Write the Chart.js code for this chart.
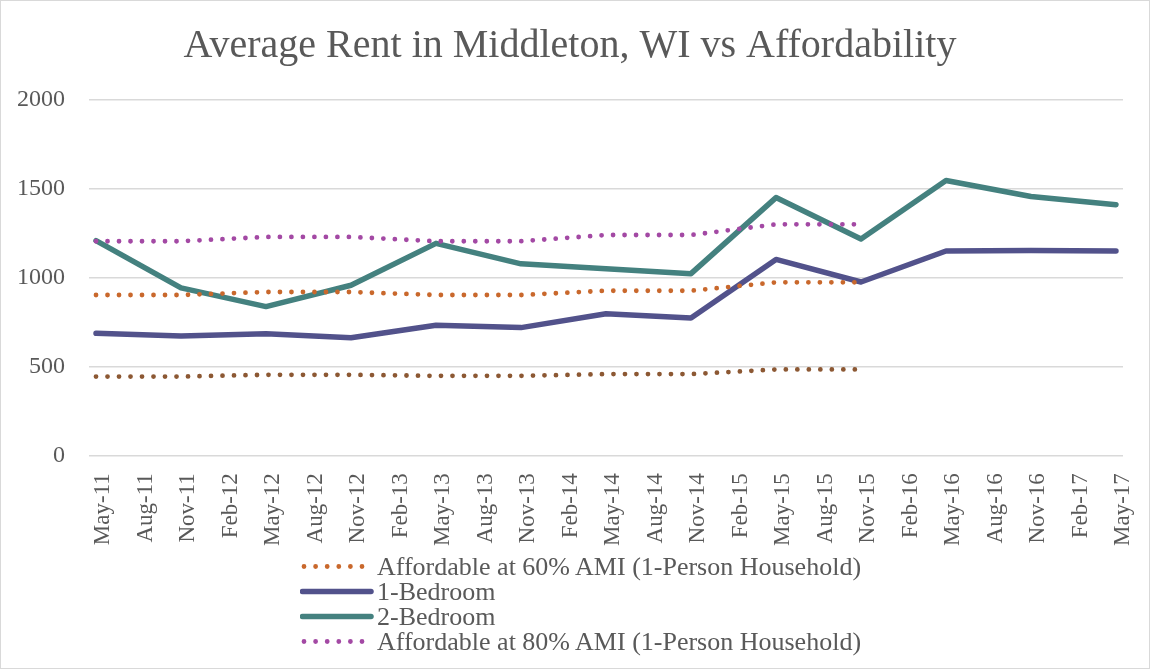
<!DOCTYPE html>
<html>
<head>
<meta charset="utf-8">
<script src="https://cdn.jsdelivr.net/npm/chart.js@4/dist/chart.umd.min.js"></script>
<style>
html, body { margin: 0; padding: 0; background: #fff; }
#wrap { position: relative; width: 1150px; height: 671px; overflow: hidden; }
#frame { position: absolute; left: 0; top: 0; width: 1148px; height: 667px; border: 1px solid #d9d9d9; pointer-events: none; }
#legend { position: absolute; left: 300px; top: 554px; font-family: 'Liberation Serif', serif; font-size: 26px; color: #595959; }
.row { display: flex; align-items: center; height: 25px; white-space: nowrap; }
.row svg { width: 77px; height: 25px; flex: none; }
</style>
</head>
<body>
<div id="wrap">
  <canvas id="chart" width="1150" height="671"></canvas>
  <div id="legend"></div>
  <div id="frame"></div>
</div>
<script>
// axis categories (quarterly ticks) and the dates that have observations
const labels = ['May-11','Aug-11','Nov-11','Feb-12','May-12','Aug-12','Nov-12','Feb-13','May-13','Aug-13','Nov-13','Feb-14',
  'May-14','Aug-14','Nov-14','Feb-15','May-15','Aug-15','Nov-15','Feb-16','May-16','Aug-16','Nov-16','Feb-17','May-17'];
const obsDates = ['May-11','Nov-11','May-12','Nov-12','May-13','Nov-13','May-14','Nov-14','May-15','Nov-15','May-16','Nov-16','May-17'];

// series values
const oneBedroom = [690, 675, 688, 665, 735, 722, 800, 776, 1105, 978, 1152, 1155, 1152];
const twoBedroom = [1210, 945, 840, 960, 1195, 1080, 1053, 1025, 1452, 1220, 1548, 1458, 1412];
const ami60 = [905, 905, 922, 922, 905, 905, 929, 929, 976, 976];
const ami80 = [1207, 1207, 1231, 1231, 1207, 1207, 1242, 1242, 1302, 1302];
const ami30 = [447, 447, 457, 457, 451, 451, 461, 461, 487, 487];

const yTicks = [0, 500, 1000, 1500, 2000];

const FONT = "'Liberation Serif', serif";
const TEXT = '#595959';

function pts(values) {
    return values.map((v, i) => ({ x: labels.indexOf(obsDates[i]), y: v }));
}

function dotted(label, values, color, legendPos) {
    return { label: label, data: pts(values), borderColor: color, backgroundColor: color, borderWidth: 4.8,
        borderDash: [0, 11.5], borderCapStyle: 'round', pointRadius: 0, tension: 0, legendPos: legendPos, dots: true };
}
function solid(label, values, color, legendPos) {
    return { label: label, data: pts(values), borderColor: color, backgroundColor: color, borderWidth: 5.5,
        borderCapStyle: 'round', borderJoinStyle: 'round', pointRadius: 0, tension: 0, legendPos: legendPos, dots: false };
}

// first dataset is drawn on top
const datasets = [
    dotted('Affordable at 80% AMI (1-Person Household)', ami80, '#a349a4', 4),
    dotted('Affordable at 60% AMI (1-Person Household)', ami60, '#c9682c', 1),
    dotted('Affordable at 30% AMI (1-Person Household)', ami30, '#8c5833', 0),
    solid('2-Bedroom', twoBedroom, '#44817f', 3),
    solid('1-Bedroom', oneBedroom, '#52528b', 2)
];

const chart = new Chart(document.getElementById('chart').getContext('2d'), {
    type: 'line',
    data: { datasets: datasets },
    options: {
        responsive: false,
        animation: false,
        layout: { padding: { left: 17, right: 27, top: 0, bottom: 108 } },
        plugins: {
            legend: { display: false },
            tooltip: { enabled: false },
            title: {
                display: true,
                text: 'Average Rent in Middleton, WI vs Affordability',
                color: TEXT,
                font: { family: FONT, size: 40, weight: 'normal' },
                padding: { top: 22, bottom: 30 }
            }
        },
        scales: {
            x: {
                type: 'linear',
                min: -0.165,
                max: labels.length - 1 + 0.165,
                grid: { display: false, drawTicks: false },
                border: { display: false },
                afterBuildTicks: s => { s.ticks = s.ticks.filter(t => t.value >= 0 && t.value <= labels.length - 1); },
                afterFit: s => { s.paddingLeft = 0; s.paddingRight = 0; },
                ticks: {
                    stepSize: 1,
                    autoSkip: false,
                    includeBounds: false,
                    maxTicksLimit: 40,
                    minRotation: 90,
                    maxRotation: 90,
                    padding: 17,
                    labelOffset: 7,
                    color: TEXT,
                    font: { family: FONT, size: 23 },
                    callback: v => labels[v] !== undefined ? labels[v] : ''
                }
            },
            y: {
                min: yTicks[0],
                max: yTicks[yTicks.length - 1],
                grid: { color: '#d9d9d9', lineWidth: 1.5, drawTicks: false },
                border: { display: false },
                afterFit: s => { s.width = 72; },
                ticks: {
                    stepSize: yTicks[1] - yTicks[0],
                    padding: 24,
                    color: TEXT,
                    font: { family: FONT, size: 24 },
                    callback: v => String(v)
                }
            }
        }
    }
});

// legend as html, built from the datasets
const legendEl = document.getElementById('legend');
chart.data.datasets
    .filter(d => d.legendPos > 0)
    .sort((a, b) => a.legendPos - b.legendPos)
    .forEach(d => {
        const row = document.createElement('div');
        row.className = 'row';
        const line = d.dots
            ? '<line x1="4" y1="12.5" x2="64" y2="12.5" stroke="' + d.borderColor + '" stroke-width="4.8" stroke-linecap="round" stroke-dasharray="0 11.6"/>'
            : '<line x1="2.5" y1="12.5" x2="71" y2="12.5" stroke="' + d.borderColor + '" stroke-width="5.5" stroke-linecap="round"/>';
        row.innerHTML = '<svg viewBox="0 0 77 25">' + line + '</svg><span>' + d.label + '</span>';
        legendEl.appendChild(row);
    });
</script>
</body>
</html>
